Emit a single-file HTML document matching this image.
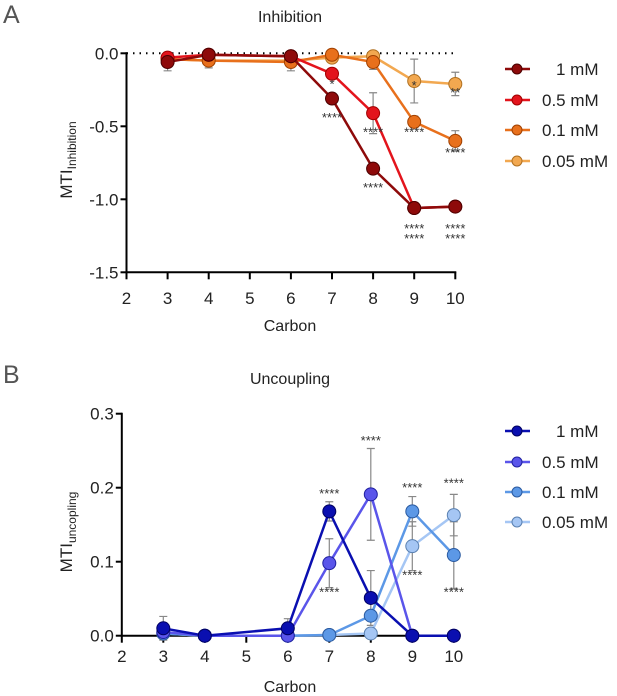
<!DOCTYPE html>
<html><head><meta charset="utf-8"><style>
body{margin:0;background:#fff}
svg{display:block;font-family:"Liberation Sans",sans-serif}
</style></head><body>
<svg id="s" width="617" height="696" xmlns="http://www.w3.org/2000/svg">
<text x="3" y="23" font-size="25" fill="#555">A</text>
<text x="3" y="383" font-size="25" fill="#555">B</text>
<text x="290" y="22" font-size="16" text-anchor="middle" fill="#222">Inhibition</text>
<text x="290" y="384" font-size="16" text-anchor="middle" fill="#222">Uncoupling</text>
<text x="290" y="331" font-size="16" text-anchor="middle" fill="#222">Carbon</text>
<text x="290" y="692" font-size="16" text-anchor="middle" fill="#222">Carbon</text>
<text transform="translate(72,160) rotate(-90)" font-size="17" text-anchor="middle" fill="#222">MTI<tspan font-size="12" dy="4">Inhibition</tspan></text>
<text transform="translate(72,532) rotate(-90)" font-size="17" text-anchor="middle" fill="#222">MTI<tspan font-size="12" dy="4">uncopling</tspan></text>
<g id="ga"></g><g id="gb"></g>
</svg>
<script>
const carbons=[3,4,6,7,8,9,10];
const xTicks=[2,3,4,5,6,7,8,9,10];
const labels=["1 mM","0.5 mM","0.1 mM","0.05 mM"];
const inh1=[-0.06,-0.01,-0.02,-0.31,-0.79,-1.06,-1.05];
const inh05=[-0.03,-0.01,-0.02,-0.14,-0.41,-1.06,-1.05];
const inh01=[-0.04,-0.05,-0.06,-0.01,-0.06,-0.47,-0.60];
const inh005=[-0.04,-0.05,-0.05,-0.03,-0.02,-0.19,-0.21];
const inhErr005=[0,0,0,0,0,0.15,0.08];
const inhErr01=[0,0.05,0.06,0,0.05,0.04,0.07];
const inhErr05=[0,0,0,0,0.14,0,0];
const unc1=[0.010,0,0.010,0.168,0.051,0,0];
const unc05=[0.005,0,0,0.098,0.191,0,0];
const unc01=[0.003,0,0,0.001,0.027,0.168,0.109];
const unc005=[0.003,0,0,0.001,0.003,0.121,0.163];
const uncErr05=[0,0,0,0.033,0.062,0,0];
const uncErr01=[0,0,0,0,0,0.02,0.045];
const uncErr005=[0,0,0,0,0,0.033,0.028];
const uncErr1=[0.016,0,0.013,0.013,0.037,0,0];
const yTicksA=[0,-0.5,-1.0,-1.5];
const yTicksB=[0,0.1,0.2,0.3];
const NS="http://www.w3.org/2000/svg";
function mk(p,t,a){const e=document.createElementNS(NS,t);for(const k in a)e.setAttribute(k,a[k]);p.appendChild(e);return e;}
function panel(g,xs,ys,yTicks,fmt,series,errs,legY,axisAtZero,stars,tickY){
  const x0=xs(2),x1=xs(10);
  const yvals=yTicks.map(ys);const ymin=Math.min(...yvals),ymax=Math.max(...yvals);
  let ya=mk(g,'line',{x1:x0,x2:x0,y1:ymin-1,y2:ymax+1,stroke:'#000','stroke-width':2});
  
  yTicks.forEach(v=>{mk(g,'line',{x1:x0-6,x2:x0,y1:ys(v),y2:ys(v),stroke:'#000','stroke-width':2});
    let t=mk(g,'text',{x:x0-8,y:ys(v)+6,'font-size':17,'text-anchor':'end',fill:'#222'});t.textContent=fmt(v);
    });
  let bx=axisAtZero?ys(0):ymax;
  let xa=mk(g,'line',{x1:x0,x2:x1+1,y1:bx,y2:bx,stroke:'#000','stroke-width':2});
  
  xTicks.forEach(v=>{mk(g,'line',{x1:xs(v),x2:xs(v),y1:bx,y2:bx+7,stroke:'#000','stroke-width':2});
    let t=mk(g,'text',{x:xs(v),y:tickY,'font-size':17,'text-anchor':'middle',fill:'#222'});t.textContent=v;
    });
  if(!axisAtZero){mk(g,'line',{x1:x0,x2:x1,y1:ys(0),y2:ys(0),stroke:'#000','stroke-width':2,'stroke-dasharray':'1.5,5'});}
  errs.forEach(([vals,e])=>{carbons.forEach((c,i)=>{if(!e[i])return;const x=xs(c);
    mk(g,'path',{d:`M${x},${ys(vals[i]-e[i])}V${ys(vals[i]+e[i])}M${x-4},${ys(vals[i]-e[i])}h8M${x-4},${ys(vals[i]+e[i])}h8`,stroke:'#888','stroke-width':1.2,fill:'none'});});});
  for(let s=series.length-1;s>=0;s--){const [vals,col,lc]=series[s];
    let pl=mk(g,'polyline',{points:carbons.map((c,i)=>xs(c)+','+ys(vals[i])).join(' '),fill:'none',stroke:col,'stroke-width':2.5});
    
    carbons.forEach((c,i)=>{let p=mk(g,'circle',{cx:xs(c),cy:ys(vals[i]),r:6.5,fill:col,stroke:lc,'stroke-width':1});
      });}
  stars.forEach(([c,v,txt])=>{let t=mk(g,'text',{x:xs(c),y:ys(v),'font-size':13,'text-anchor':'middle',fill:'#333'});t.textContent=txt;
    });
  series.forEach(([vals,col,lc],k)=>{const y=legY[k];
    mk(g,'line',{x1:505,x2:530,y1:y,y2:y,stroke:col,'stroke-width':2.5});
    let c=mk(g,'circle',{cx:517,cy:y,r:5,fill:col,stroke:lc,'stroke-width':1});
    
    let t=mk(g,'text',{x:k==0?556:542,y:y+6,'font-size':17,fill:'#222'});t.textContent=labels[k];
    });
}
const xsA=v=>126.5+(v-2)*41.1, ysA=v=>53.3-v*146;
panel(document.getElementById('ga'),xsA,ysA,yTicksA,v=>v.toFixed(1),
 [[inh1,'#8e0a0a','#4a0000'],[inh05,'#e3141c','#a00000'],[inh01,'#e8701c','#a04000'],[inh005,'#f2a850','#b07020']],
 [[inh005,inhErr005],[inh01,inhErr01],[inh05,inhErr05],[inh1,[0,0,0,0.02,0,0,0]],[inh1,[0.06,0,0,0,0,0,0]]],
 [69,100,130,161],false,
 [[7,-0.24,'*'],[7,-0.47,'****'],[8,-0.57,'****'],[8,-0.95,'****'],[9,-0.25,'*'],[9,-0.57,'****'],[9,-1.23,'****'],[9,-1.30,'****'],[10,-0.30,'**'],[10,-0.71,'****'],[10,-1.23,'****'],[10,-1.30,'****']],
 304);
const xsB=v=>121.8+(v-2)*41.5, ysB=v=>635.7-v*740;
panel(document.getElementById('gb'),xsB,ysB,yTicksB,v=>v.toFixed(1),
 [[unc1,'#0a0fb0','#000060'],[unc05,'#5a55ea','#2020a0'],[unc01,'#5c98e6','#2a5aa0'],[unc005,'#a5c6f4','#5a80b0']],
 [[unc1,uncErr1],[unc05,uncErr05],[unc01,uncErr01],[unc005,uncErr005]],
 [431,462,492,522],true,
 [[7,0.186,'****'],[7,0.053,'****'],[8,0.258,'****'],[9,0.194,'****'],[9,0.076,'****'],[10,0.200,'****'],[10,0.053,'****']],
 662);
</script>
</body></html>
